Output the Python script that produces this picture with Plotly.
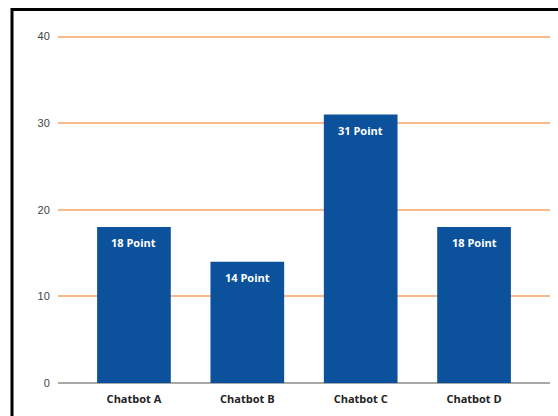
import plotly.graph_objects as go

categories = ["Chatbot A", "Chatbot B", "Chatbot C", "Chatbot D"]
points = [18, 14, 31, 18]
labels = [f"{v} Point" for v in points]
y_ticks = [0, 10, 20, 30, 40]

BLUE = "#0b519c"

fig = go.Figure()
fig.add_trace(go.Bar(
    x=categories, y=points, marker=dict(color=BLUE, line=dict(width=0)),
    width=0.65, hoverinfo="skip",
))

for c, v, t in zip(categories, points, labels):
    fig.add_annotation(x=c, y=v, text=f"<b>{t}</b>", showarrow=False,
                       yanchor="top", yshift=-6,
                       font=dict(family="Open Sans", size=11, color="white"))

fig.update_layout(
    width=558, height=416,
    margin=dict(l=58, r=8, t=34, b=33),
    paper_bgcolor="white", plot_bgcolor="white",
    showlegend=False,
    xaxis=dict(
        range=[-0.67, 3.67],
        tickvals=categories,
        ticktext=[f"<b>{c}</b>" for c in categories],
        tickfont=dict(family="Open Sans", size=11, color="#222222"),
        showgrid=False, showline=False, zeroline=False,
        ticks="outside", ticklen=6, tickcolor="rgba(0,0,0,0)",
    ),
    yaxis=dict(
        range=[0, 40.3],
        tickvals=y_ticks,
        tickfont=dict(family="Liberation Sans", size=11, color="#444444"),
        showgrid=True, gridcolor="#f9b98c", gridwidth=1.5,
        zeroline=True, zerolinecolor="#a9a9a9", zerolinewidth=1.5,
        showline=False,
        ticks="outside", ticklen=5, tickcolor="rgba(0,0,0,0)",
    ),
)

# outer frame (black border, left/top visible)
fig.add_shape(type="rect", xref="paper", yref="paper",
              x0=-0.0935, x1=1.2, y0=-0.3, y1=1.07,
              line=dict(color="black", width=3), fillcolor="rgba(0,0,0,0)",
              layer="above")

fig.write_html("out.html")
